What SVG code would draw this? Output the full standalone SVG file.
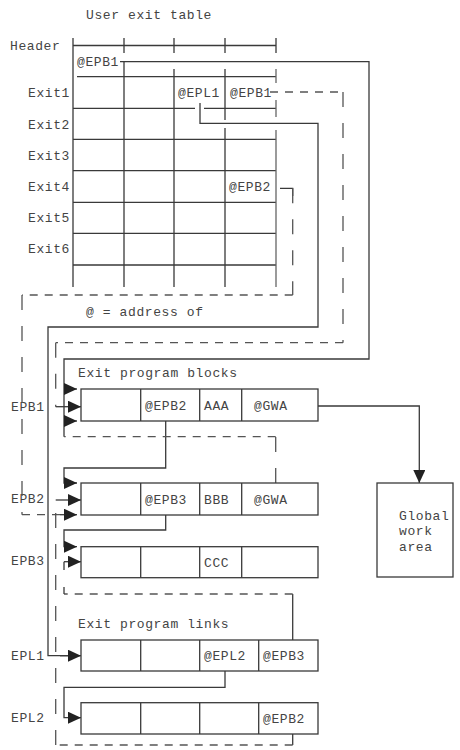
<svg xmlns="http://www.w3.org/2000/svg" width="460" height="750" viewBox="0 0 460 750">
<style>
text{font-family:"Liberation Mono","DejaVu Sans Mono",monospace;font-size:13px;letter-spacing:0.6px;fill:#444}
.ln{fill:none;stroke:#3a3a3a;stroke-width:1.3}
.lt{fill:none;stroke:#666;stroke-width:1.3}
.box{fill:#fff;stroke:#3a3a3a;stroke-width:1.3}
.dh{fill:none;stroke:#555;stroke-width:1.3;stroke-dasharray:8 7}
.dv{fill:none;stroke:#555;stroke-width:1.3;stroke-dasharray:15 16}
.ar{fill:none;stroke:#3a3a3a;stroke-width:1.3;marker-end:url(#ah)}
</style>
<defs>
<marker id="ah" markerUnits="userSpaceOnUse" markerWidth="13" markerHeight="12" refX="13" refY="6" orient="auto">
<path d="M0,0 L13,6 L0,12 z" fill="#222"/>
</marker>
</defs>
<rect width="460" height="750" fill="#fff"/>

<g id="user-exit-table">
<text x="86" y="18.5">User exit table</text>
<text x="10" y="49.5">Header</text>
<text x="28" y="97">Exit1</text>
<text x="28" y="128.5">Exit2</text>
<text x="28" y="159.5">Exit3</text>
<text x="28" y="190.5">Exit4</text>
<text x="28" y="221.5">Exit5</text>
<text x="28" y="253">Exit6</text>
<path class="ln" d="M73,45.5 H276 M73,38 V287 M124,38 V53 M174,38 V53 M225,38 V53 M276,38 V53"/>
<path class="ln" d="M77,76.7 H276"/>
<path class="ln" d="M73,108.3 H195 M204,108.3 H276 M73,139.3 H276 M73,170.7 H276 M73,202.3 H276 M73,233.3 H276 M73,265 H276"/>
<path class="ln" d="M124,61.7 V287 M174,69 V287 M225,69 V120 M225,128 V287"/>
<path class="lt" d="M276,69 V83 M276,100 V117 M276,130 V287"/>
<text x="77" y="66">@EPB1</text>
<text x="178" y="96.5">@EPL1</text>
<text x="230" y="96.5">@EPB1</text>
<text x="229" y="190.5">@EPB2</text>
<text x="86" y="316">@ = address of</text>
</g>

<g id="labels">
<text x="78" y="377">Exit program blocks</text>
<text x="78" y="628">Exit program links</text>
<text x="11" y="411">EPB1</text>
<text x="11" y="503">EPB2</text>
<text x="11" y="565">EPB3</text>
<text x="11" y="660">EPL1</text>
<text x="11" y="721.5">EPL2</text>
</g>

<g id="connectors">
<!-- header @EPB1 -> EPB1 -->
<path class="ln" d="M120,61.7 H369 V359 H64 V436.7"/>
<path class="ar" d="M64,389 H77"/>
<path class="ar" d="M64,421 H77"/>
<!-- Exit1 @EPL1 -> EPL1 -->
<path class="ln" d="M200,103 V123.3 H318 V327 H48 V655.7 H68"/>
<path class="ar" d="M60,655.7 H81"/>
<!-- Exit1 @EPB1 -> EPB1 (dashed) -->
<path class="dh" d="M270,92 H343"/>
<path class="dv" d="M343,92 V342.7"/>
<path class="dh" d="M343,342.7 H55.7"/>
<path class="dv" d="M55.7,342.7 V406.7"/>
<path class="ar" d="M55.7,406.7 H81"/>
<!-- Exit4 @EPB2 -> EPB2 (dashed) -->
<path class="ln" d="M280,188.3 H292.7 V196"/>
<path class="dv" d="M292.7,188.3 V295"/>
<path class="dh" d="M292.7,295 H22"/>
<path class="dv" d="M22,295 V514.7"/>
<path class="dh" d="M22,514.7 H64"/>
<path class="ar" d="M60,514.7 H77"/>
<!-- EPB1 @EPB2 -> EPB2 -->
<path class="ar" d="M165.7,421 V468 H64 V483 H77"/>
<!-- EPB1 @GWA -> Global work area -->
<path class="ar" d="M318,406 H419.3 V483"/>
<!-- EPB2 @GWA (dashed) -->
<path class="dv" d="M275.7,483 V436.7"/>
<path class="dh" d="M275.7,436.7 H64"/>
<!-- EPB2 @EPB3 -> EPB3 -->
<path class="ar" d="M165.7,515 V530 H64 V546.7 H77"/>
<!-- EPL1 @EPB3 -> EPB3 -->
<path class="ln" d="M292.7,640 V594"/>
<path class="dh" d="M292.7,594 H64"/>
<path class="ln" d="M64,594 V587 M64,570 V561.7"/>
<path class="ar" d="M64,561.7 H81"/>
<!-- EPL1 @EPL2 -> EPL2 -->
<path class="ar" d="M225,671 V687.3 H64 V717.7 H81"/>
<!-- EPL2 @EPB2 -> EPB2 (dashed) -->
<path class="ln" d="M292.7,734 V745"/>
<path class="dh" d="M292.7,745 H55.7"/>
<path class="dv" d="M55.7,745 V500"/>
<path class="ar" d="M55.7,500 H81"/>
</g>

<g id="epb1">
<rect class="box" x="81" y="389" width="237" height="32"/>
<path class="ln" d="M140.7,389 V421 M199.7,389 V421 M241.7,389 V421"/>
<text x="145" y="409.5">@EPB2</text>
<text x="204" y="409.5">AAA</text>
<text x="254" y="409.5">@GWA</text>
</g>

<g id="epb2">
<rect class="box" x="81" y="483" width="237" height="32"/>
<path class="ln" d="M140.7,483 V515 M199.7,483 V515 M241.7,483 V515"/>
<text x="145" y="503.5">@EPB3</text>
<text x="204" y="503.5">BBB</text>
<text x="254" y="503.5">@GWA</text>
</g>

<g id="epb3">
<rect class="box" x="81" y="546.7" width="237" height="31"/>
<path class="ln" d="M140.7,546.7 V577.7 M199.7,546.7 V577.7 M241.7,546.7 V577.7"/>
<text x="204" y="566.5">CCC</text>
</g>

<g id="epl1">
<rect class="box" x="81" y="640" width="237" height="31"/>
<path class="ln" d="M140.7,640 V671 M199.7,640 V671 M258.7,640 V671"/>
<text x="204" y="660">@EPL2</text>
<text x="263" y="660">@EPB3</text>
</g>

<g id="epl2">
<rect class="box" x="81" y="702.7" width="237" height="31.3"/>
<path class="ln" d="M140.7,702.7 V734 M199.7,702.7 V734 M258.7,702.7 V734"/>
<text x="263" y="722.5">@EPB2</text>
</g>

<g id="gwa">
<rect class="box" x="377" y="483" width="76" height="94"/>
<text x="399" y="519.5">Global</text>
<text x="399" y="535">work</text>
<text x="399" y="550.5">area</text>
</g>
</svg>
